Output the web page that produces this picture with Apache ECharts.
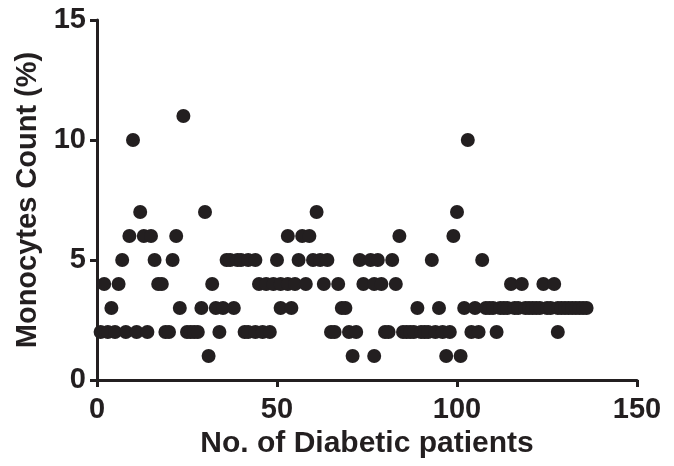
<!DOCTYPE html>
<html>
<head>
<meta charset="utf-8">
<script src="https://cdn.jsdelivr.net/npm/echarts@6/dist/echarts.min.js"></script>
<style>
  html, body { margin: 0; padding: 0; background: #fff; }
  #chart { width: 674px; height: 466px; }
</style>
</head>
<body>
<div id="chart"></div>
<script>
// Patient numbers grouped by monocyte count (%)
const patientsAt1 = [31, 71, 77, 97, 101];
const patientsAt2 = [1, 3, 5, 8, 11, 14, 19, 20, 25, 26, 27, 28, 34, 41, 42, 44, 46, 48, 65, 66, 70, 72,
  80, 81, 85, 86, 87, 88, 90, 91, 92, 94, 96, 98, 104, 106, 111, 128];
const patientsAt3 = [4, 23, 29, 33, 35, 38, 51, 54, 68, 69, 89, 95, 102, 105, 108, 109, 110, 112, 113, 114,
  116, 117, 119, 120, 121, 122, 123, 125, 126, 128, 129, 130, 131, 132, 133, 134, 135, 136];
const patientsAt4 = [2, 6, 17, 18, 32, 45, 47, 49, 51, 53, 55, 58, 63, 67, 74, 77, 79, 83, 115, 118, 124, 127];
const patientsAt5 = [7, 16, 21, 36, 37, 39, 40, 42, 44, 50, 56, 60, 62, 64, 73, 76, 78, 82, 93, 107];
const patientsAt6 = [9, 13, 15, 22, 53, 57, 59, 84, 99];
const patientsAt7 = [12, 30, 61, 100];
const patientsAt10 = [10, 103];
const patientsAt11 = [24];

const xTicks = [0, 50, 100, 150];
const yTicks = [0, 5, 10, 15];

const groups = [
  [1, patientsAt1], [2, patientsAt2], [3, patientsAt3], [4, patientsAt4], [5, patientsAt5],
  [6, patientsAt6], [7, patientsAt7], [10, patientsAt10], [11, patientsAt11]
];
const points = [];
groups.forEach(([count, list]) => list.forEach(p => points.push([p, count])));

const ink = '#231f20';
const font = '"Liberation Sans", Arial, sans-serif';

const chart = echarts.init(document.getElementById('chart'), null, { renderer: 'canvas' });
chart.setOption({
  animation: false,
  backgroundColor: '#fff',
  grid: { left: 97, right: 37, top: 20, bottom: 86 },
  xAxis: {
    type: 'value',
    min: xTicks[0], max: xTicks[xTicks.length - 1], interval: 50,
    name: 'No. of Diabetic patients',
    nameLocation: 'middle',
    nameGap: 47,
    nameTextStyle: { color: ink, fontFamily: font, fontWeight: 'bold', fontSize: 30 },
    axisLine: { lineStyle: { color: ink, width: 3 } },
    axisTick: { length: 7, lineStyle: { color: ink, width: 3 } },
    axisLabel: { color: ink, fontFamily: font, fontWeight: 'bold', fontSize: 29, margin: 15 },
    splitLine: { show: false }
  },
  yAxis: {
    type: 'value',
    min: yTicks[0], max: yTicks[yTicks.length - 1], interval: 5,
    name: 'Monocytes Count (%)',
    nameLocation: 'middle',
    nameGap: 49,
    nameTextStyle: { color: ink, fontFamily: font, fontWeight: 'bold', fontSize: 29 },
    axisLine: { show: true, lineStyle: { color: ink, width: 3 } },
    axisTick: { show: true, length: 7, lineStyle: { color: ink, width: 3 } },
    axisLabel: { color: ink, fontFamily: font, fontWeight: 'bold', fontSize: 29, margin: 11 },
    splitLine: { show: false }
  },
  series: [{
    type: 'scatter',
    data: points,
    symbol: 'circle',
    symbolSize: 14,
    itemStyle: { color: ink, opacity: 1 },
    emphasis: { disabled: true }
  }]
});
</script>
</body>
</html>
